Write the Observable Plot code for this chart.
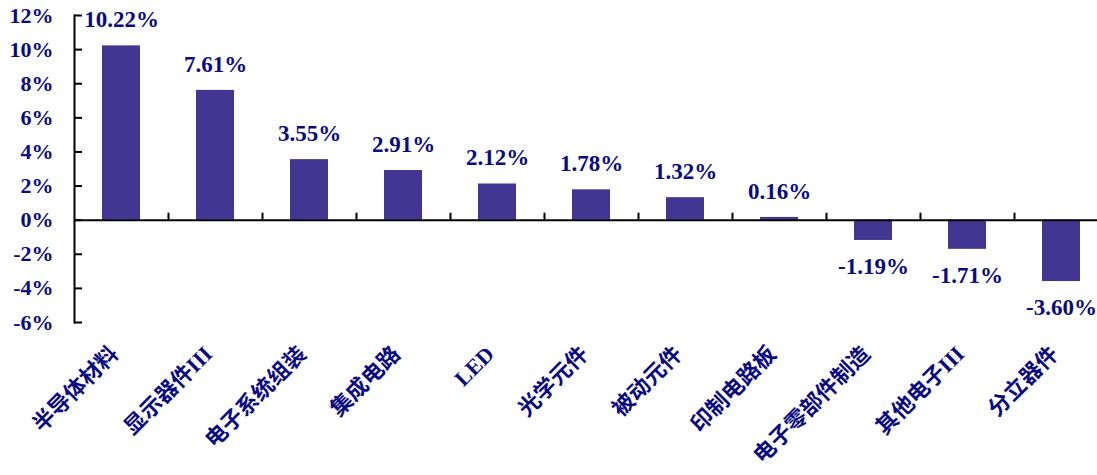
<!DOCTYPE html>
<html>
<head>
<meta charset="utf-8">
<script src="https://cdn.jsdelivr.net/npm/d3@7"></script>
<script src="https://cdn.jsdelivr.net/npm/@observablehq/plot@0.6"></script>
<style>
  html, body { margin: 0; padding: 0; background: #ffffff; }
  #chart svg { display: block; }
</style>
</head>
<body>
<div id="chart"></div>
<script>
const categories = ["半导体材料", "显示器件III", "电子系统组装", "集成电路", "LED", "光学元件", "被动元件", "印制电路板", "电子零部件制造", "其他电子III", "分立器件"];
const values = [10.22, 7.61, 3.55, 2.91, 2.12, 1.78, 1.32, 0.16, -1.19, -1.71, -3.60];
const yTicks = [-6, -4, -2, 0, 2, 4, 6, 8, 10, 12];

const data = categories.map((c, i) => ({cat: c, value: values[i]}));
const barColor = "#433693";
const textColor = "#0b0b80";
const serif = "'Times New Roman', 'Liberation Serif', serif";
const cjk = "'Times New Roman', 'Liberation Serif', 'Noto Sans CJK SC', serif";

const chart = Plot.plot({
  width: 1097,
  height: 475,
  marginLeft: 74,
  marginRight: 0,
  marginTop: 15,
  marginBottom: 153,
  style: {background: "#ffffff"},
  x: {domain: categories, range: [74, 1108], paddingInner: 0.6, paddingOuter: 0.3, axis: null},
  y: {domain: [-6, 12], axis: null},
  marks: [
    Plot.barY(data, {x: "cat", y: "value", fill: barColor}),
    Plot.ruleY([0], {stroke: "#000", strokeWidth: 2}),
    Plot.frame({anchor: "left", stroke: "#000", strokeWidth: 2}),
    Plot.tickY(yTicks, {y: d => d, stroke: "#000", strokeWidth: 2, insetRight: 1015}),
    Plot.ruleX(categories.slice(1), {x: d => d, y1: 0, y2: 0.41, dx: -47, stroke: "#000", strokeWidth: 2}),
    Plot.axisY(yTicks, {
      label: null, tickSize: 0, tickPadding: 21, tickFormat: d => d + "%",
      fontSize: 22, fontWeight: "bold", fontFamily: serif, fill: textColor, letterSpacing: "-1px"
    }),
    Plot.text(data.filter(d => d.value >= 0), {
      x: "cat", y: "value", text: d => d.value.toFixed(2) + "%", dy: -26,
      fontSize: 23, fontWeight: "bold", fontFamily: serif, fill: textColor
    }),
    Plot.text(data.filter(d => d.value < 0), {
      x: "cat", y: "value", text: d => d.value.toFixed(2) + "%", dy: 26,
      fontSize: 23, fontWeight: "bold", fontFamily: serif, fill: textColor
    }),
    Plot.text(categories, {
      x: d => d, frameAnchor: "bottom", text: d => d, rotate: -45, textAnchor: "end",
      dx: -2, dy: 33, fontSize: 22, fontWeight: "bold", fontFamily: cjk, fill: textColor
    })
  ]
});
document.getElementById("chart").appendChild(chart);
</script>
</body>
</html>
